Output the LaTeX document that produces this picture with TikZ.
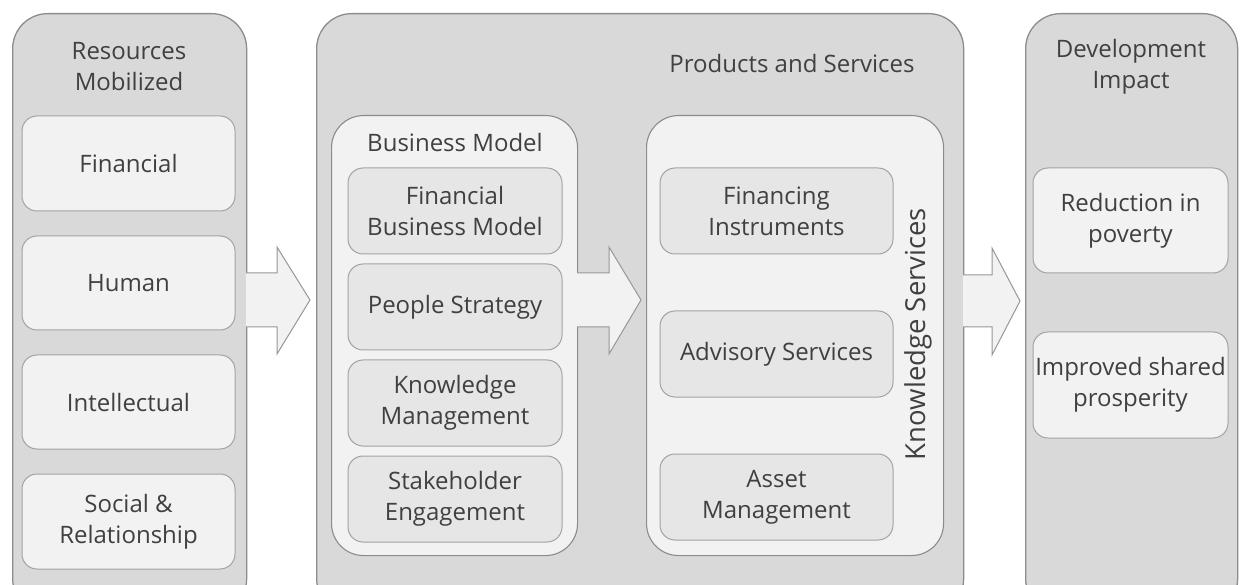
\documentclass[tikz,border=0pt]{standalone}
\usepackage{fontspec}
\setmainfont{Open Sans}
\usetikzlibrary{positioning}
\definecolor{panelgray}{HTML}{D9D9D9}
\definecolor{cardgray}{HTML}{F2F2F2}
\definecolor{chipgray}{HTML}{E6E6E6}
\definecolor{linegray}{HTML}{8C8C8C}
\definecolor{inkgray}{HTML}{404040}
\newcommand\txtsize{\fontsize{24}{31}\selectfont}

\begin{document}
\begin{tikzpicture}[x=1pt,y=-1pt,
		panel/.style={ % grey columns
			draw=linegray, fill=panelgray, line width=1.3pt,
			rounded corners=35pt, anchor=north west, inner sep=0pt
		},
		group/.style={ % light inner frames
			draw=linegray, fill=cardgray, line width=1.1pt,
			rounded corners=32pt, anchor=north west, inner sep=0pt
		},
		card/.style={
			draw=linegray!80, fill=cardgray, line width=1pt,
			rounded corners=15pt, align=center, text=inkgray, font=\txtsize,
			inner sep=0pt
		},
		chip/.style={card, fill=chipgray, minimum width=214pt, minimum height=86pt},
		title/.style={align=center, text=inkgray, font=\txtsize, inner sep=0pt},
		blockarrow/.style={draw=linegray!90, fill=cardgray, line width=1pt, line join=miter}
		]
		\useasboundingbox (0,0) rectangle (1248,585);
		\clip (0,0) rectangle (1248,585);

		%% columns
		\node[panel, minimum width=234pt, minimum height=600pt] (resources) at (12,13) {};
		\node[panel, minimum width=647pt, minimum height=600pt] (products) at (316,13) {};
		\node[panel, minimum width=212pt, minimum height=600pt] (impact) at (1025,13) {};

		%% resources mobilized
		\node[title] (restitle) at (129,67) {Resources\\Mobilized};
		\node[card, minimum width=213pt, minimum height=95pt] (financial) at (128.5,163.5) {Financial};
		\node[card, minimum width=213pt, minimum height=94pt, below=24pt of financial] (human) {Human};
		\node[card, minimum width=213pt, minimum height=94pt, below=24pt of human] (intellectual) {Intellectual};
		\node[card, minimum width=213pt, minimum height=95pt, below=24pt of intellectual] (social) {Social \&\\Relationship};

		%% products and services
		\node[title] (prodtitle) at (792,64) {Products and Services};
		\node[group, minimum width=246pt, minimum height=440pt] (business) at (331,115) {};
		\node[title] (bustitle) at (455,143) {Business Model};
		\node[chip] (finmodel) at (455,211) {Financial\\Business Model};
		\node[chip, below=9pt of finmodel] (people) {People Strategy};
		\node[chip, below=9pt of people] (knowmgmt) {Knowledge\\Management};
		\node[chip, below=9pt of knowmgmt] (stakeholder) {Stakeholder\\Engagement};

		\node[group, minimum width=297pt, minimum height=440pt] (knowledge) at (646,115) {};
		\node[chip, minimum width=233pt] (instruments) at (776.5,211) {Financing\\Instruments};
		\node[chip, minimum width=233pt, below=56pt of instruments] (advisory) {Advisory Services};
		\node[chip, minimum width=233pt, below=56pt of advisory] (asset) {Asset\\Management};
		\node[title, font=\fontsize{27.5}{31}\selectfont, rotate=90] (kstitle) at (918,334) {Knowledge Services};

		%% development impact
		\node[title] (devtitle) at (1131,67) {Development\\Impact};
		\node[card, minimum width=195pt, minimum height=105pt] (poverty) at (1130.5,220.5) {Reduction in\\poverty};
		\node[card, minimum width=195pt, minimum height=106pt, below=58pt of poverty] (prosperity) {Improved shared\\prosperity};

		%% block arrows between columns
		\draw[blockarrow] (246,273) -- (277,273) -- (277,247) -- (310,300)
			-- (277,354) -- (277,327) -- (246,327);
		\draw[blockarrow] (577,273) -- (609,273) -- (609,247) -- (641,300)
			-- (609,354) -- (609,327) -- (577,327);
		\draw[blockarrow] (963,275) -- (992,275) -- (992,248) -- (1020,301)
			-- (992,355) -- (992,327) -- (963,327);
\end{tikzpicture}
\end{document}
